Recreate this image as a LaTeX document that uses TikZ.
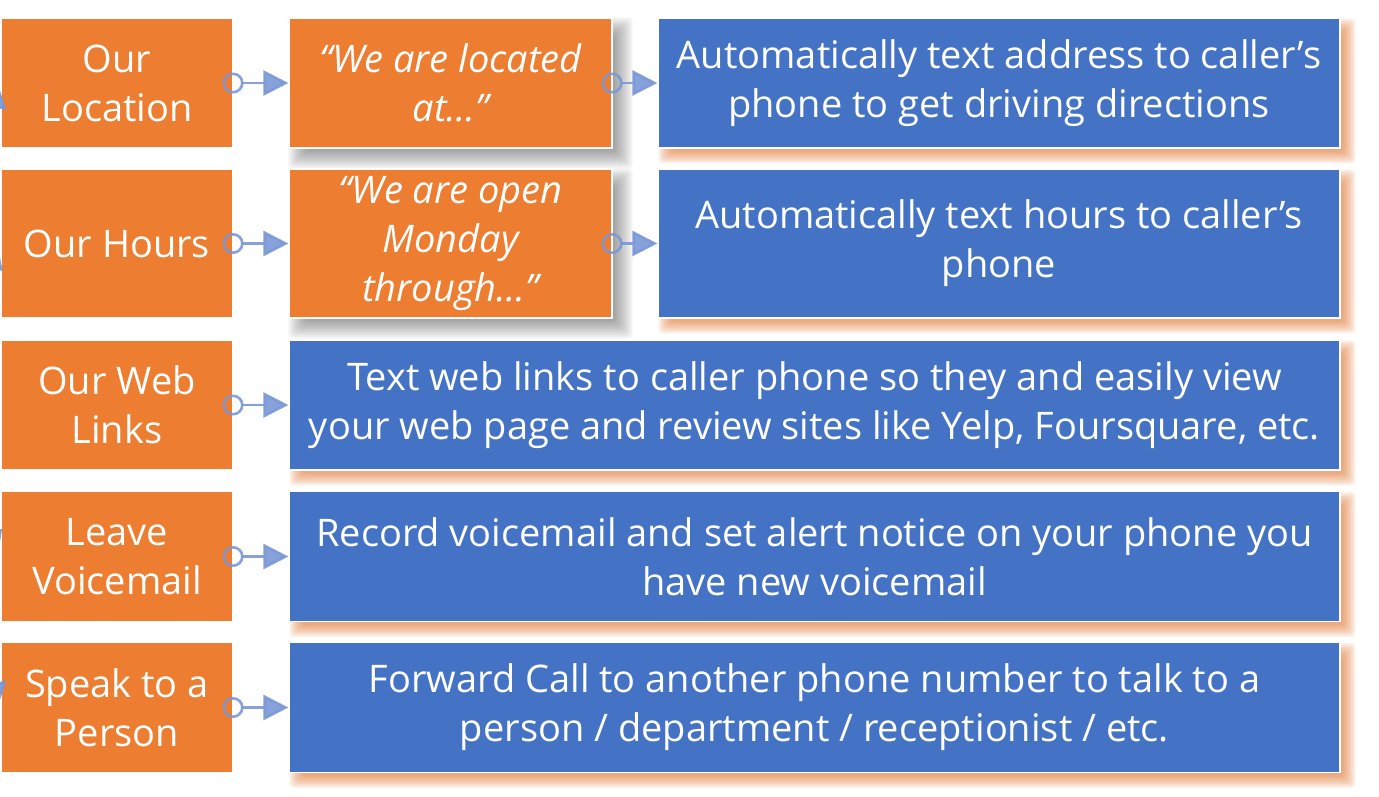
\documentclass[tikz,border=0pt]{standalone}
\usepackage{fontspec}
\setmainfont{Open Sans}
\usetikzlibrary{arrows.meta,backgrounds}
\definecolor{boxorange}{RGB}{237,125,49}
\definecolor{boxblue}{RGB}{68,114,196}
\definecolor{linkblue}{RGB}{122,151,214}
\definecolor{shadeorange}{RGB}{222,112,38}
% soft shadow: node, colour, offset, blur, opacity of one layer
\newcommand{\softshadow}[5]{%
  \foreach \s in {0,...,9}
    \fill[#2,opacity=#5,rounded corners=4pt]
      ([shift={({#3-#4+\s*#4/5},{#3-#4+\s*#4/5})}]#1.north west) rectangle
      ([shift={({#3+#4-\s*#4/5},{#3+#4-\s*#4/5})}]#1.south east);
}

\begin{document}
\begin{tikzpicture}[x=1pt,y=-1pt,
  box/.style={rectangle,draw=white,line width=1.2pt,text=white,align=center,inner sep=0pt,
              minimum height=130pt,font=\fontsize{38}{49}\selectfont},
  topic/.style={box,fill=boxorange,minimum width=232pt},
  say/.style={box,fill=boxorange,minimum width=323pt,font=\fontsize{38}{49}\selectfont\itshape},
  act/.style={box,fill=boxblue,minimum width=682pt},
  wide/.style={box,fill=boxblue,minimum width=1051pt},
  link/.style={draw=linkblue,fill=linkblue,opacity=0.9,line width=2.6pt,
               {Circle[open,length=21pt,width=21pt]}-{Triangle[length=25pt,width=25pt]}},
  lead/.style={link,-{Triangle[length=25pt,width=25pt]}}
]
\useasboundingbox (0,0) rectangle (1379,796);
\clip (0,0) rectangle (1379,796);
\node[topic] (loc) at (117,83) {Our\\Location};
\node[say] (locsay) at (450.5,83) {“We are located\\at…”};
\node[act] (locact) at (999,83) {Automatically text address to caller’s\\phone to get driving directions};
\node[topic,minimum height=149pt] (hrs) at (117,243.5) {Our Hours};
\node[say,minimum height=149pt] (hrssay) at (450.5,243.5) {“We are open\\Monday\\through…”};
\node[act,minimum height=149pt] (hrsact) at (999,243.5) {Automatically text hours to caller’s\\phone};
\node[topic] (web) at (117,405) {Our Web\\Links};
\node[wide] (webact) at (814.5,405) {Text web links to caller phone so they and easily view\\your web page and review sites like Yelp, Foursquare, etc.};
\node[topic] (vm) at (117,556.5) {Leave\\Voicemail};
\node[wide] (vmact) at (814.5,556.5) {Record voicemail and set alert notice on your phone you\\have new voicemail};
\node[topic] (per) at (117,707.5) {Speak to a\\Person};
\node[wide] (peract) at (814.5,707.5) {Forward Call to another phone number to talk to a\\person / department / receptionist / etc.};
\begin{scope}[on background layer]
  \softshadow{locsay}{black}{10}{10}{0.045}
  \softshadow{hrssay}{black}{10}{10}{0.045}
  \softshadow{locact}{shadeorange}{8}{7}{0.085}
  \softshadow{hrsact}{shadeorange}{8}{7}{0.085}
  \softshadow{webact}{shadeorange}{8}{7}{0.085}
  \softshadow{vmact}{shadeorange}{8}{7}{0.085}
  \softshadow{peract}{shadeorange}{8}{7}{0.085}
\end{scope}
\coordinate (caller) at (-50,405);
\draw[lead] (caller) -- ([xshift=-3pt]loc.west);
\draw[lead] (caller) -- ([xshift=-3pt]hrs.west);
\draw[lead] (caller) -- ([xshift=-3pt]vm.west);
\draw[lead] (caller) -- ([xshift=-3pt]per.west);
\draw[link] ([xshift=-11pt]loc.east) -- (locsay.west);
\draw[link] ([xshift=-11pt]locsay.east) -- (locact.west);
\draw[link] ([xshift=-11pt]hrs.east) -- (hrssay.west);
\draw[link] ([xshift=-11pt]hrssay.east) -- (hrsact.west);
\draw[link] ([xshift=-11pt]web.east) -- (webact.west);
\draw[link] ([xshift=-11pt]vm.east) -- (vmact.west);
\draw[link] ([xshift=-11pt]per.east) -- (peract.west);
\end{tikzpicture}
\end{document}
